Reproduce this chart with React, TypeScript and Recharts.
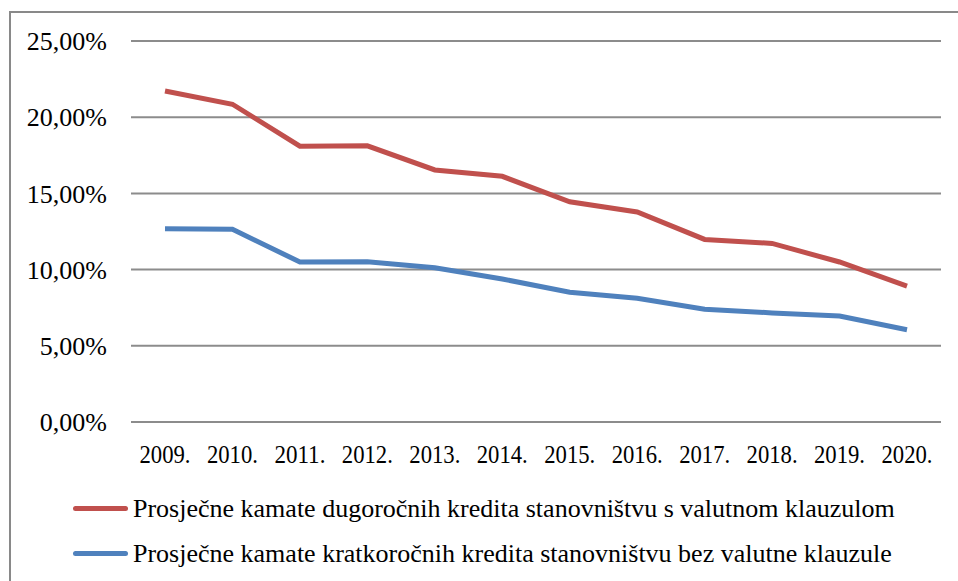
import React from 'react'
import { LineChart, Line, XAxis, YAxis, CartesianGrid } from 'recharts'

// Kamatne stope na kredite stanovništvu, 2009.–2020.

const years = ['2009.', '2010.', '2011.', '2012.', '2013.', '2014.', '2015.', '2016.', '2017.', '2018.', '2019.', '2020.']

const dugorocni = [21.72, 20.85, 18.1, 18.12, 16.54, 16.12, 14.45, 13.78, 11.98, 11.72, 10.5, 8.92]
const kratkorocni = [12.68, 12.64, 10.5, 10.52, 10.12, 9.38, 8.52, 8.12, 7.4, 7.16, 6.95, 6.05]

const yTicks = [0, 5, 10, 15, 20, 25]

const SERIES = [
  { key: 'dug', name: 'Prosječne kamate dugoročnih kredita stanovništvu s valutnom klauzulom', color: '#C0504D' },
  { key: 'krat', name: 'Prosječne kamate kratkoročnih kredita stanovništvu bez valutne klauzule', color: '#4F81BD' },
]

const data = years.map((year, i) => ({ year, dug: dugorocni[i], krat: kratkorocni[i] }))

const FONT = '"Liberation Serif", "Times New Roman", serif'

const fmtPct = (v: number) => v.toFixed(2).replace('.', ',') + '%'

// year labels are squeezed a bit in the original, so fit them to a fixed width
function YearTick({ x, y, payload }: { x: number; y: number; payload: { value: string } }) {
  return (
    <text
      x={x}
      y={y}
      dy={41}
      textAnchor="middle"
      textLength={51}
      lengthAdjust="spacingAndGlyphs"
      fontFamily={FONT}
      fontSize={26}
      fill="#000"
    >
      {payload.value}
    </text>
  )
}

function ChartLegend() {
  return (
    <div style={{ position: 'absolute', left: 73, top: 486, fontFamily: FONT, fontSize: 26, color: '#000' }}>
      {SERIES.map((s) => (
        <div key={s.key} style={{ display: 'flex', alignItems: 'center', height: 45 }}>
          <span style={{ width: 55, height: 5, borderRadius: 3, background: s.color, marginRight: 5 }} />
          <span style={{ whiteSpace: 'nowrap' }}>{s.name}</span>
        </div>
      ))}
    </div>
  )
}

export default function App() {
  return (
    <div style={{ position: 'fixed', left: 0, top: 0, width: 958, height: 581, overflow: 'hidden', background: '#fff' }}>
      {/* outer frame, runs off the right and bottom edge */}
      <div style={{ position: 'absolute', left: 9, top: 11, width: 1000, height: 700, border: '2px solid #898989' }} />
      <div style={{ position: 'absolute', left: 0, top: 0 }}>
        <LineChart width={958} height={581} data={data} margin={{ top: 41, right: 17, bottom: 119, left: 0 }}>
          <CartesianGrid vertical={false} stroke="#8c8c8c" strokeWidth={2} />
          <XAxis
            dataKey="year"
            axisLine={false}
            tickLine={false}
            tickSize={0}
            tickMargin={0}
            height={40}
            interval={0}
            padding={{ left: 34, right: 34 }}
            tick={(props: any) => <YearTick {...props} />}
          />
          <YAxis
            domain={[0, 25]}
            ticks={yTicks}
            tickFormatter={fmtPct}
            axisLine={false}
            tickLine={false}
            tickSize={0}
            tickMargin={24}
            width={131}
            tick={{ fontFamily: FONT, fontSize: 26, fill: '#000' }}
          />
          {SERIES.map((s) => (
            <Line
              key={s.key}
              type="linear"
              dataKey={s.key}
              name={s.name}
              stroke={s.color}
              strokeWidth={5}
              dot={false}
              activeDot={false}
              isAnimationActive={false}
            />
          ))}
        </LineChart>
      </div>
      <ChartLegend />
    </div>
  )
}
